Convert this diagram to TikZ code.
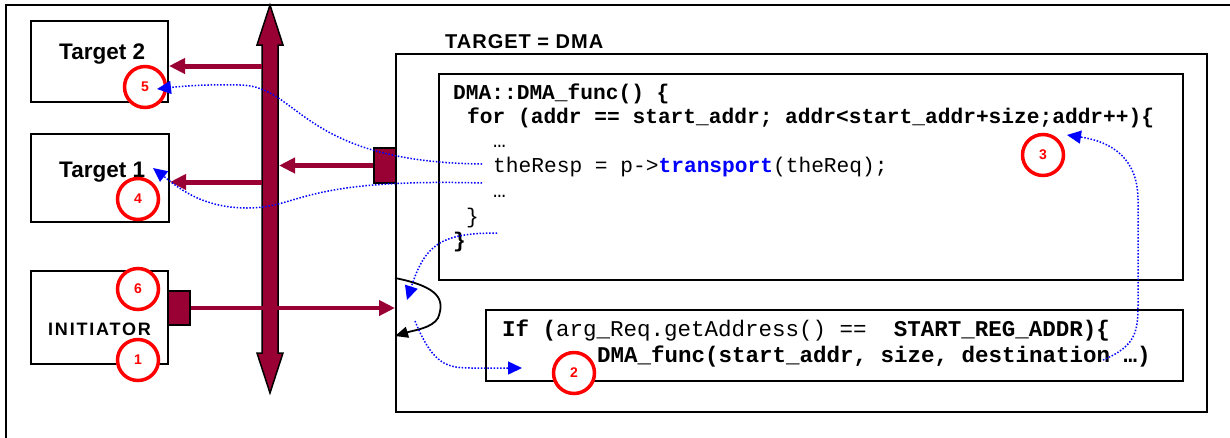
\documentclass[tikz,border=0pt]{standalone}
\usepackage{fontspec}
\setmainfont{Liberation Sans}
\setmonofont{Liberation Mono}
\usetikzlibrary{arrows.meta,positioning,calc}
\definecolor{busred}{RGB}{153,0,51}
\definecolor{flowblue}{RGB}{0,0,255}
\definecolor{stepred}{RGB}{255,0,0}

\begin{document}
\begin{tikzpicture}[
    x=1pt, y=-1pt,
    box/.style={draw, line width=2pt, inner sep=0pt},
    boxtext/.style={anchor=base west, inner sep=0pt, font=\fontsize{22.5}{26}\selectfont\bfseries},
    port/.style={draw, line width=1.8pt, fill=busred, inner sep=0pt, minimum width=22pt, minimum height=35pt},
    busarrow/.style={busred, line width=5pt, -{Triangle[length=16pt,width=15pt]}},
    flow/.style={flowblue, line width=1.5pt, dash pattern=on 1.5pt off 1.7pt, -{Triangle[length=14pt,width=13pt]}},
    stepcircle/.style={circle, draw=stepred, fill=white, line width=3.5pt, minimum size=41pt, inner sep=0pt, text=stepred, font=\fontsize{14}{14}\selectfont\bfseries},
    codeline/.style={anchor=base west, inner sep=0pt, font=\fontsize{21.2}{24}\selectfont\ttfamily},
    reqline/.style={anchor=base west, inner sep=0pt, font=\fontsize{22.5}{26}\selectfont\ttfamily}
]
    \useasboundingbox (0,0) rectangle (1230,437);
    \draw[line width=2pt] (6,5) rectangle (1260,460);

    % targets and initiator
    \node[box, minimum width=137pt, minimum height=81pt] (t2) at (99.5,61.5) {};
    \node[boxtext] (t2text) at (59,59) {Target 2};
    \node[box, minimum width=138pt, minimum height=88pt] (t1) at (100,178) {};
    \node[boxtext] (t1text) at (59,177) {Target 1};
    \node[box, minimum width=137pt, minimum height=93pt] (init) at (99.5,317.5) {};
    \node[anchor=base west, inner sep=0pt, font=\fontsize{18}{20}\selectfont\bfseries\addfontfeature{LetterSpace=10}] (inittext) at (48,335) {INITIATOR};
    \node[port, minimum height=34pt] (iport) at (179,308) {};

    % DMA target
    \node[box, minimum width=811pt, minimum height=358pt] (dma) at (801.5,233) {};
    \node[anchor=base west, inner sep=0pt, font=\fontsize{20}{22}\selectfont\bfseries\addfontfeature{LetterSpace=5}] (dmatitle) at (445,48) {TARGET = DMA};
    \node[port] (dport) at (385,165.5) {};
    \node[box, minimum width=744pt, minimum height=206pt] (codetop) at (811,177) {};
    \node[box, minimum width=697pt, minimum height=71pt] (codebot) at (834.5,345.5) {};

    \node[codeline, font=\fontsize{21.2}{24}\selectfont\ttfamily\bfseries] (c1) at (453,99) {DMA::DMA\_func() \{};
    \node[codeline, font=\fontsize{21.2}{24}\selectfont\ttfamily\bfseries] (c2) at (467,123) {for (addr == start\_addr; addr<start\_addr+size;addr++)\{};
    \node[codeline] (c3) at (493,147) {…};
    \node[codeline] (c4) at (493,172) {theResp = p->\textcolor{flowblue}{\bfseries transport}(theReq);};
    \node[codeline] (c5) at (493,197) {…};
    \node[codeline] (c6) at (466,223) {\}};
    \node[codeline, font=\fontsize{21.2}{24}\selectfont\ttfamily\bfseries] (c7) at (453,247) {\}};

    \node[reqline] (r1) at (502,336) {{\bfseries If (}arg\_Req.getAddress() ==\ \ {\bfseries START\_REG\_ADDR)\{}};
    \node[reqline, font=\fontsize{22.5}{26}\selectfont\ttfamily\bfseries] (r2) at (597,362) {DMA\_func(start\_addr, size, destination …)};

    % bus
    \filldraw[fill=busred, draw=black, line width=1.5pt] (270,5) -- (283,45) -- (278,45) -- (278,353) -- (283,353)
        -- (270,393) -- (257,353) -- (262,353) -- (262,45) -- (257,45) -- cycle;
    \coordinate (busL) at (262,0);
    \coordinate (busR) at (279,0);

    \draw[busarrow] (busL |- 0,66) -- (t2.east |- 0,66);
    \draw[busarrow] (busL |- 0,182) -- (t1.east |- 0,182);
    \draw[busarrow] (dport.west) -- (dport.west -| busR);
    \draw[busarrow, line width=4pt] (iport.east) -- (iport.east -| dma.west);

    % return path
    \coordinate (ret) at (dma.west |- 0,278);
    \coordinate (retend) at (dma.west |- 0,336);
    \draw[line width=1.8pt, -{Triangle[length=13pt,width=11pt]}] (ret) .. controls (440,287) and (445,300) .. (438,318)
        .. controls (432,328) and (415,330) .. (retend);

    % steps
    \node[stepcircle] (s1) at (138,360) {1};
    \node[stepcircle] (s2) at (574,373) {2};
    \node[stepcircle] (s3) at (1043,155) {3};
    \node[stepcircle] (s4) at (138,199) {4};
    \node[stepcircle] (s5) at (145,87) {5};
    \node[stepcircle] (s6) at (138,289) {6};

    % call flow
    \coordinate (f5) at (482,164);
    \coordinate (f4) at (482,183);
    \coordinate (fend) at (497,233);
    \coordinate (fin) at (415,321);
    \coordinate (floop) at (1103,360);
    \draw[flow] (f5) .. controls (300,162) and (300,86) .. (240,85) .. controls (200,84) and (175,87) .. (157,89);
    \draw[flow] (f4) .. controls (300,178) and (300,208) .. (247,208) .. controls (200,208) and (175,185) .. (153,168);
    \draw[flow] (fend) .. controls (440,233) and (425,245) .. (407,300);
    \draw[flow] (fin) .. controls (435,370) and (450,368) .. (480,368) -- (522,368);
    \draw[flow] (floop) .. controls (1138,345) and (1138,330) .. (1138,300) -- (1138,200)
        .. controls (1138,150) and (1100,140) .. (1067,135);
\end{tikzpicture}
\end{document}
